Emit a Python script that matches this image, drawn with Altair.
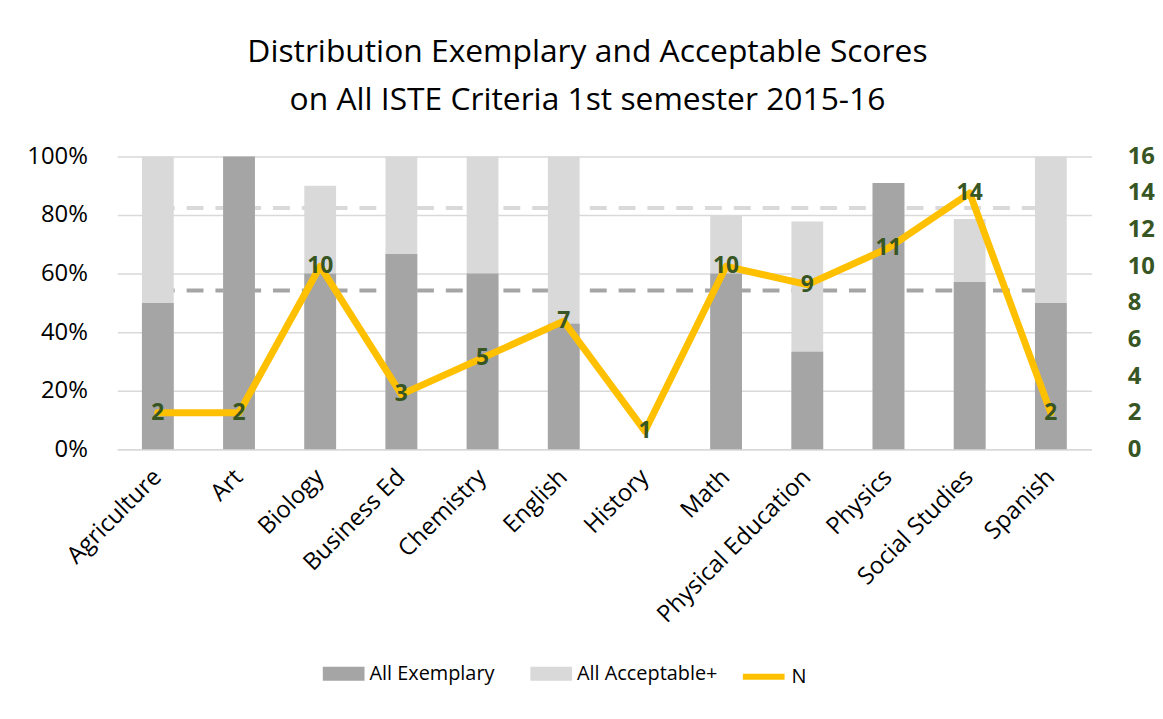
import altair as alt
import pandas as pd

subjects = ["Agriculture", "Art", "Biology", "Business Ed", "Chemistry", "English",
            "History", "Math", "Physical Education", "Physics", "Social Studies", "Spanish"]
exemplary = [0.50, 1.00, 0.60, 0.667, 0.60, 0.429, 0.0, 0.60, 0.333, 0.909, 0.571, 0.50]
acceptable = [1.00, 1.00, 0.90, 1.00, 1.00, 1.00, 0.0, 0.80, 0.778, 0.909, 0.786, 1.00]
n_values = [2, 2, 10, 3, 5, 7, 1, 10, 9, 11, 14, 2]
avg_exemplary = 0.542
avg_acceptable = 0.824

FONT = "Open Sans"
GREEN = "#375623"
DARK = "#a5a5a5"
LIGHT = "#d9d9d9"
YELLOW = "#ffc000"

bars_df = pd.DataFrame(
    [{"subject": s, "series": "All Acceptable+", "value": v, "z": 0} for s, v in zip(subjects, acceptable)]
    + [{"subject": s, "series": "All Exemplary", "value": v, "z": 1} for s, v in zip(subjects, exemplary)]
)
n_df = pd.DataFrame({"subject": subjects, "N": n_values, "series": ["N"] * len(subjects)})
avg_df = pd.DataFrame({
    "start": [subjects[0]] * 2,
    "end": [subjects[-1]] * 2,
    "value": [avg_acceptable, avg_exemplary],
    "series": ["All Acceptable+", "All Exemplary"],
})

x_enc = alt.X("subject:N", sort=subjects, title=None,
              scale=alt.Scale(paddingInner=0.61, paddingOuter=0.305),
              axis=alt.Axis(labelAngle=-45, labelAlign="right", labelBaseline="middle",
                            labelFontSize=24, labelFont=FONT, labelColor="#000000",
                            labelPadding=24, labelLimit=1000, ticks=False,
                            domainColor=LIGHT, domainWidth=1.5))

left_axis = alt.Axis(format="%", values=[0, 0.2, 0.4, 0.6, 0.8, 1.0], labelFontSize=24,
                     labelFont=FONT, labelColor="#000000", labelPadding=30, ticks=False,
                     domain=False, grid=True, gridColor=LIGHT, gridWidth=1.5, title=None)
right_axis = alt.Axis(values=list(range(0, 17, 2)), labelFontSize=24, labelFont=FONT,
                      labelColor=GREEN, labelFontWeight="bold", labelPadding=36, ticks=False,
                      domain=False, grid=False, title=None, orient="right")

y_left = alt.Scale(domain=[0, 1])
y_right = alt.Scale(domain=[0, 16])

color_scale = alt.Scale(domain=["All Exemplary", "All Acceptable+"], range=[DARK, LIGHT])
stroke_scale = alt.Scale(domain=["N"], range=[YELLOW])

rect_path = "M-1,-0.333H1V0.333H-1Z"
line_path = "M-1,0H1"

bar_legend = alt.Legend(
    title=None, orient="none", direction="horizontal", legendX=207, legendY=500,
    labelFontSize=20, labelFont=FONT, labelColor="#000000", labelOffset=5,
    symbolType=rect_path, symbolSize=1764, symbolStrokeWidth=0, symbolOpacity=1,
    columnPadding=36,
)
line_legend = alt.Legend(
    title=None, orient="none", direction="horizontal", legendX=627, legendY=500,
    labelFontSize=20, labelFont=FONT, labelColor="#000000", labelOffset=4,
    symbolType=line_path, symbolSize=1764, symbolStrokeWidth=6, symbolOpacity=1,
)

rules = alt.Chart(avg_df).mark_rule(strokeWidth=4, strokeDash=[17, 12]).encode(
    x=alt.X("start:N", sort=subjects, title=None),
    x2="end:N",
    y=alt.Y("value:Q", scale=y_left, axis=left_axis),
    color=alt.Color("series:N", scale=color_scale, legend=bar_legend),
)

bars = alt.Chart(bars_df).mark_bar(size=32).encode(
    x=x_enc,
    y=alt.Y("value:Q", scale=y_left, axis=left_axis, stack=None),
    color=alt.Color("series:N", scale=color_scale, legend=bar_legend),
    order=alt.Order("z:Q"),
)

line = alt.Chart(n_df).mark_line(strokeWidth=7, strokeCap="round",
                                 strokeJoin="round").encode(
    x=x_enc,
    y=alt.Y("N:Q", scale=y_right, axis=right_axis),
    stroke=alt.Stroke("series:N", scale=stroke_scale, legend=line_legend),
)

labels = alt.Chart(n_df).mark_text(font=FONT, fontSize=23, fontWeight="bold",
                                   color=GREEN, baseline="middle", align="center").encode(
    x=x_enc,
    y=alt.Y("N:Q", scale=y_right, axis=right_axis),
    text="N:Q",
)

left = alt.layer(rules, bars)
right = alt.layer(line, labels)

chart = alt.layer(left, right).resolve_scale(y="independent").properties(
    width=981, height=295,
    title=alt.Title(["Distribution Exemplary and Acceptable Scores",
                     "on All ISTE Criteria 1st semester 2015-16"],
                    font=FONT, fontSize=32, fontWeight="normal", color="#000000",
                    lineHeight=48, anchor="middle", dx=-17, offset=28),
    autosize=alt.AutoSizeParams(type="none"),
    padding={"left": 110, "top": 147, "right": 64, "bottom": 260},
).configure_view(stroke=None)

chart.save("out.html", embed_options={"renderer": "svg", "actions": False})
